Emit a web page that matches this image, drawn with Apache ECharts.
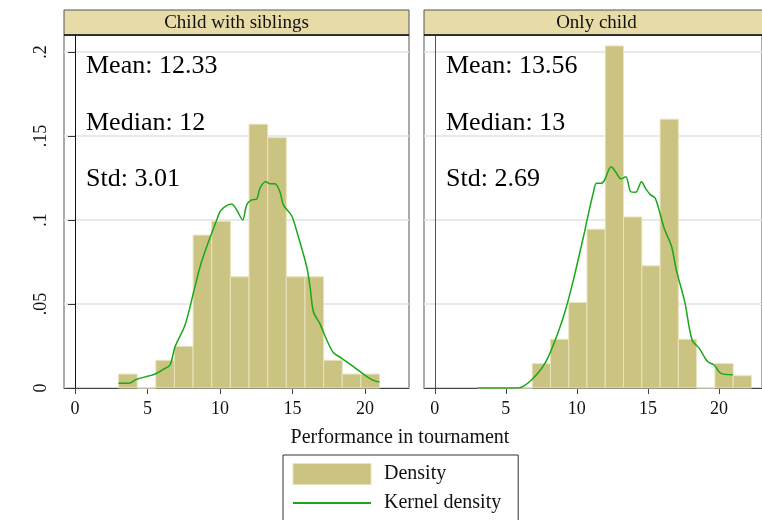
<!DOCTYPE html>
<html>
<head>
<meta charset="utf-8">
<script src="https://cdn.jsdelivr.net/npm/echarts@6/dist/echarts.min.js"></script>
<style>html,body{margin:0;padding:0;background:#fff}#c{width:762px;height:520px}</style>
</head>
<body>
<div id="c"></div>
<script>
// ---- data ----
const panelTitles = ['Child with siblings', 'Only child'];
const binLower = [3, 4.286, 5.571, 6.857, 8.143, 9.429, 10.714, 12, 13.286, 14.571, 15.857, 17.143, 18.429, 19.714, 21];
const binUpper = [4.286, 5.571, 6.857, 8.143, 9.429, 10.714, 12, 13.286, 14.571, 15.857, 17.143, 18.429, 19.714, 21, 22.286];
const densSiblings = [0.0083, 0, 0.0165, 0.0248, 0.091, 0.0993, 0.0662, 0.157, 0.149, 0.0662, 0.0662, 0.0165, 0.0083, 0.0083];
const densOnly = [0, 0, 0, 0.0145, 0.029, 0.0509, 0.0945, 0.2036, 0.1018, 0.0727, 0.16, 0.029, 0, 0.0145, 0.0073];
const kdeSiblingsX = [3, 3.7, 4.25, 5.06, 5.52, 6.09, 6.55, 6.9, 7.59, 8.16, 8.62, 9.08, 9.77, 10.0, 10.34, 10.8, 11.15, 11.56, 11.84, 12.18, 12.53, 12.76, 13.15, 13.45, 13.79, 14.14, 14.37, 14.94, 15.4, 15.98, 16.21, 16.44, 16.9, 17.36, 17.82, 18.39, 19.2, 19.66, 20.46, 21];
const kdeSiblingsY = [0.0028, 0.0028, 0.0052, 0.0071, 0.0083, 0.0111, 0.0137, 0.0246, 0.0375, 0.0564, 0.072, 0.084, 0.100, 0.105, 0.108, 0.1095, 0.106, 0.1, 0.109, 0.112, 0.1125, 0.119, 0.1228, 0.1215, 0.1215, 0.1165, 0.109, 0.1025, 0.09, 0.072, 0.06, 0.0454, 0.038, 0.0286, 0.021, 0.0177, 0.0127, 0.0097, 0.005, 0.0035];
const kdeOnlyX = [3, 5.86, 6.78, 7.82, 8.74, 9.2, 9.77, 10.57, 10.69, 11.15, 11.38, 11.72, 11.95, 12.41, 12.76, 13.1, 13.45, 13.79, 14.14, 14.55, 14.83, 15.17, 15.52, 16.15, 16.67, 17.0, 17.59, 18.11, 18.62, 19.2, 19.66, 20.11, 20.97];
const kdeOnlyY = [0, 0, 0.0046, 0.0157, 0.0345, 0.0464, 0.0648, 0.094, 0.099, 0.1159, 0.1218, 0.1218, 0.1238, 0.1317, 0.1283, 0.1245, 0.1258, 0.1168, 0.1165, 0.1228, 0.1188, 0.1151, 0.1129, 0.095, 0.0841, 0.0702, 0.0514, 0.0286, 0.0236, 0.0157, 0.0137, 0.0089, 0.0079];
const statsSiblings = ['Mean: 12.33', 'Median: 12', 'Std: 3.01'];
const statsOnly = ['Mean: 13.56', 'Median: 13', 'Std: 2.69'];
const xTicks = [0, 5, 10, 15, 20];
const yTicks = [0, 0.05, 0.1, 0.15, 0.2];
const xTitle = 'Performance in tournament';

// ---- styling ----
const SERIF = '"Liberation Serif", "Times New Roman", Times, serif';
const BAR_FILL = '#cbc382';
const BAR_EDGE = '#e9e3bf';
const KDE_COLOR = '#18a818';
const STRIP_FILL = '#e7dba7';

const panelLeft = [64, 424];
const panelWidth = 345;
const panelTop = 35;
const panelHeight = 353;
const xMin = -0.7586, xMax = 23.03;
const yMax = 0.2101;

function histData(dens) {
  return dens.map((d, i) => [binLower[i], binUpper[i], d]);
}
function zip(xs, ys) { return xs.map((x, i) => [x, ys[i]]); }

function renderBar(params, api) {
  const p0 = api.coord([api.value(0), api.value(2)]);
  const p1 = api.coord([api.value(1), 0]);
  return {
    type: 'rect',
    shape: { x: p0[0], y: p0[1], width: p1[0] - p0[0], height: p1[1] - p0[1] },
    style: { fill: BAR_FILL, stroke: BAR_EDGE, lineWidth: 1 }
  };
}

const grids = [0, 1].map(i => ({
  left: panelLeft[i], top: panelTop, width: panelWidth, height: panelHeight,
  show: true, borderColor: '#555', borderWidth: 1, backgroundColor: '#fff'
}));

const xAxes = [0, 1].map(i => ({
  type: 'value', gridIndex: i, min: xMin, max: xMax,
  axisLine: { show: true, onZero: false, lineStyle: { color: '#444', width: 1 } },
  axisTick: { show: true, customValues: xTicks, length: 6, lineStyle: { color: '#444' } },
  axisLabel: { show: true, customValues: xTicks, margin: 12, fontFamily: SERIF, fontSize: 18, color: '#111' },
  splitLine: { show: false }
}));

const yAxes = [0, 1].map(i => ({
  type: 'value', gridIndex: i, min: 0, max: yMax, interval: 0.05,
  axisLine: { show: true, lineStyle: { color: i === 0 ? '#111' : '#555', width: 1 } },
  axisTick: { show: i === 0, customValues: yTicks, length: 7, lineStyle: { color: '#333' } },
  axisLabel: {
    show: i === 0, customValues: yTicks, rotate: 90, margin: 14,
    fontFamily: SERIF, fontSize: 18, color: '#111',
    formatter: v => (v === 0 ? '0' : String(+v.toFixed(2)).replace(/^0/, ''))
  },
  splitLine: { show: true, lineStyle: { color: '#e2e2e2', width: 1.5 } }
}));

const series = [
  { name: 'Density', type: 'custom', xAxisIndex: 0, yAxisIndex: 0, renderItem: renderBar,
    itemStyle: { color: BAR_FILL, borderColor: BAR_EDGE }, encode: { x: [0, 1], y: 2 }, data: histData(densSiblings), z: 2 },
  { name: 'Density', type: 'custom', xAxisIndex: 1, yAxisIndex: 1, renderItem: renderBar,
    itemStyle: { color: BAR_FILL, borderColor: BAR_EDGE }, encode: { x: [0, 1], y: 2 }, data: histData(densOnly), z: 2 },
  { name: 'Kernel density', type: 'line', xAxisIndex: 0, yAxisIndex: 0, symbol: 'none', smooth: 0.3,
    lineStyle: { color: KDE_COLOR, width: 1.5 }, itemStyle: { color: KDE_COLOR }, data: zip(kdeSiblingsX, kdeSiblingsY), z: 3 },
  { name: 'Kernel density', type: 'line', xAxisIndex: 1, yAxisIndex: 1, symbol: 'none', smooth: 0.3,
    lineStyle: { color: KDE_COLOR, width: 1.5 }, itemStyle: { color: KDE_COLOR }, data: zip(kdeOnlyX, kdeOnlyY), z: 3 }
];

const graphics = [];
[0, 1].forEach(i => {
  graphics.push({
    type: 'rect', z: 100,
    shape: { x: panelLeft[i], y: 10, width: panelWidth, height: 25 },
    style: { fill: STRIP_FILL, stroke: '#555', lineWidth: 1 }
  });
  graphics.push({
    type: 'line', z: 101,
    shape: { x1: panelLeft[i], y1: 35, x2: panelLeft[i] + panelWidth, y2: 35 },
    style: { stroke: '#111', lineWidth: 1.5 }
  });
  graphics.push({
    type: 'text', z: 102,
    x: panelLeft[i] + panelWidth / 2, y: 23,
    style: { text: panelTitles[i], font: '19px ' + SERIF, fill: '#111', textAlign: 'center', textVerticalAlign: 'middle' }
  });
  const stats = i === 0 ? statsSiblings : statsOnly;
  const sx = i === 0 ? 86 : 446;
  stats.forEach((t, k) => {
    graphics.push({
      type: 'text', z: 50,
      x: sx, y: 66 + k * 56.7,
      style: { text: t, font: '26px ' + SERIF, fill: '#000', textAlign: 'left', textVerticalAlign: 'middle' }
    });
  });
});
graphics.push({
  type: 'text', z: 50, x: 400, y: 438,
  style: { text: xTitle, font: '20px ' + SERIF, fill: '#111', textAlign: 'center', textVerticalAlign: 'middle' }
});

const chart = echarts.init(document.getElementById('c'), null, { renderer: 'canvas' });
chart.setOption({
  animation: false,
  backgroundColor: '#fff',
  grid: grids,
  xAxis: xAxes,
  yAxis: yAxes,
  series: series,
  legend: {
    left: 283, top: 455, orient: 'vertical', height: 120,
    padding: [8, 17, 14, 9],
    itemWidth: 78, itemHeight: 21, itemGap: 8,
    borderColor: '#333', borderWidth: 1, backgroundColor: '#fff',
    textStyle: { fontFamily: SERIF, fontSize: 20, color: '#111', padding: [0, 0, 0, 8] },
    data: [
      { name: 'Density', icon: 'rect', itemStyle: { color: BAR_FILL, borderColor: BAR_EDGE, borderWidth: 1 } },
      { name: 'Kernel density', itemStyle: { opacity: 0 }, lineStyle: { color: KDE_COLOR, width: 2 } }
    ]
  },
  graphic: graphics
});
</script>
</body>
</html>
